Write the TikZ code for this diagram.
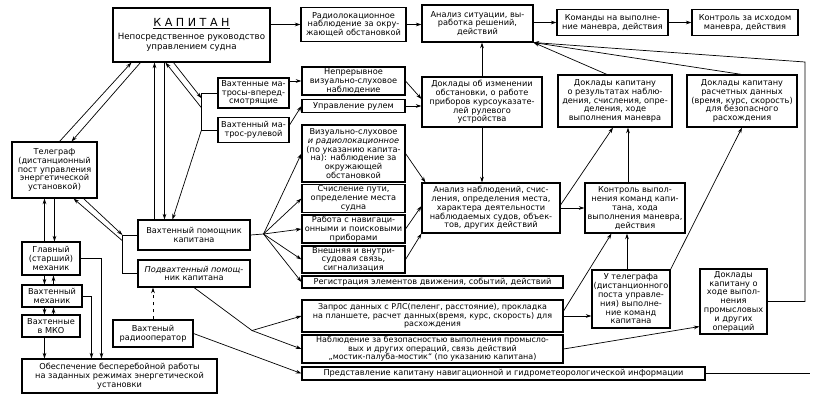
\documentclass[tikz,border=0pt]{standalone}
\usepackage{fontspec}
\setmainfont{DejaVu Sans}
\usetikzlibrary{positioning,arrows.meta,calc}

\begin{document}
\begin{tikzpicture}[
  x=0.03cm, y=-0.03cm,
  blk/.style={draw, line width=0.9pt, inner sep=1pt, align=center,
              font=\fontsize{7}{7.5}\selectfont},
  sz/.style 2 args={minimum width=#1*0.03cm, minimum height=#2*0.03cm},
  arr/.style={-{Stealth[length=1.7mm,width=1.1mm]}, semithick},
  ln/.style={semithick}
]
\useasboundingbox[fill=white] (0,0) rectangle (821,413);

%% -- nodes -------------------------------------------------------------
\node[blk, sz={157}{54}, font=\fontsize{7.4}{8.6}\selectfont] (cap) at (191.5,35)
  {{\fontsize{9.5}{11}\selectfont\underline{К А П И Т А Н}}\\[3pt]
   Непосредственное руководство\\управлением судна};

% top row
\node[blk, sz={105}{34}] (radar) at (353.5,24.5) {Радиолокационное\\наблюдение за окру-\\жающей обстановкой};
\node[blk, sz={111}{37}] (sit)   at (477.5,23.5) {Анализ ситуации, вы-\\работка решений,\\действий};
\node[blk, sz={111}{26}] (cmd)   at (612.5,22.5) {Команды на выполне-\\ние маневра, действия};
\node[blk, sz={106}{26}] (outc)  at (745,22.5)   {Контроль за исходом\\маневра, действия};

% sailors
\node[blk, sz={71}{30}] (look) at (253.5,93)  {Вахтенные ма-\\тросы-вперед-\\смотрящие};
\node[blk, sz={71}{25}] (helm) at (253.5,130) {Вахтенный ма-\\трос-рулевой};

% watch duties
\node[blk, sz={103}{28}] (visc) at (353.5,81)    {Непрерывное\\визуально-слуховое\\наблюдение};
\node[blk, sz={103}{13}] (rud)  at (353.5,106)   {Управление рулем};
\node[blk, sz={103}{57}] (visr) at (353.5,153.5) {Визуально-слуховое\\\textit{и радиолокационное}\\(по указанию капита-\\на): наблюдение за\\окружающей\\обстановкой};
\node[blk, sz={103}{27}] (dr)   at (353.5,198.5) {Счисление пути,\\определение места\\судна};
\node[blk, sz={103}{28}] (navw) at (353.5,229)   {Работа с навигаци-\\онными и поисковыми\\приборами};
\node[blk, sz={103}{25}] (comm) at (353.5,259.5) {Внешняя и внутри-\\судовая связь,\\сигнализация};
\node[blk, sz={261}{12}] (reg)  at (432.5,282)   {Регистрация элементов движения, событий, действий};

% reports and analysis
\node[blk, sz={120}{50}] (rchg)  at (482,102) {Доклады об изменении\\обстановки, о работе\\приборов курсоуказате-\\лей рулевого\\устройства};
\node[blk, sz={114}{52}] (rres)  at (615,101) {Доклады капитану\\о результатах наблю-\\дения, счисления, опре-\\деления, ходе\\выполнения маневра};
\node[blk, sz={110}{52}] (rcalc) at (742,101) {Доклады капитану\\расчетных данных\\(время, курс, скорость)\\для безопасного\\расхождения};
\node[blk, sz={138}{50}] (aobs)  at (491,208) {Анализ наблюдений, счис-\\ления, определения места,\\характера деятельности\\наблюдаемых судов, объек-\\тов, других действий};
\node[blk, sz={100}{50}] (cexe)  at (635,208) {Контроль выпол-\\нения команд капи-\\тана, хода\\выполнения маневра,\\действия};

% officers
\node[blk, sz={85}{56}]  (tel)  at (54.5,170)  {Телеграф\\(дистанционный\\пост управления\\энергетической\\установкой)};
\node[blk, sz={112}{30}] (oow)  at (194,235)   {Вахтенный помощник\\капитана};
\node[blk, sz={112}{27}] (soow) at (194,273.5) {\textit{Подвахтенный помощ-}\\ник капитана};
\node[blk, sz={80}{27}]  (radio) at (153,333.5) {Вахтеный\\радиооператор};

% engine room
\node[blk, sz={58}{33}]  (chief) at (51,258.5) {Главный\\(старший)\\механик};
\node[blk, sz={60}{22}]  (wmech) at (52,296)   {Вахтенный\\механик};
\node[blk, sz={58}{22}]  (mko)   at (51,326)   {Вахтенные\\в МКО};
\node[blk, sz={195}{34}] (power) at (119.5,376) {Обеспечение бесперебойной работы\\на заданных режимах энергетической\\установки};

% off-watch duties
\node[blk, sz={261}{32}, font=\fontsize{6.8}{7.4}\selectfont] (rls) at (432.5,316) {Запрос данных с РЛС(пеленг, расстояние), прокладка\\на планшете, расчет данных(время, курс, скорость) для\\расхождения};
\node[blk, sz={261}{28}, font=\fontsize{6.8}{7.4}\selectfont] (safe) at (432.5,349) {Наблюдение за безопасностью выполнения промысло-\\вых и других операций, связь действий\\„мостик-палуба-мостик“ (по указанию капитана)};
\node[blk, sz={403}{13}] (info)  at (503.5,373.5) {Представление капитану навигационной и гидрометеорологической информации};
\node[blk, sz={78}{58}]  (attel) at (631,299)   {У телеграфа\\(дистанционного\\поста управле-\\ния) выполне-\\ние команд\\капитана};
\node[blk, sz={67}{65}]  (rops)  at (733.5,301.5) {Доклады\\капитану о\\ходе выпол-\\нения\\промысловых\\и других\\операций};

%% -- helper points -----------------------------------------------------
\coordinate (brS1) at ($(look.west)+(-16,0)$);
\coordinate (brS2) at ($(helm.west)+(-16,0)$);
\coordinate (brA1) at ($(oow.west)+(-15,0)$);
\coordinate (brA2) at ($(soow.west)+(-15,0)$);
\coordinate (vA) at ($(oow.north west)+(17,0)$);
\coordinate (vB) at ($(oow.north west)+(27,0)$);
\coordinate (fan)  at ($(oow.east)+(13,-1)$);
\coordinate (fan2) at ($(soow.south)+(58,43)$);
\coordinate (tA) at ($(chief.north west)+(23,0)$);
\coordinate (tB) at ($(chief.north west)+(33,0)$);
\coordinate (mA) at ($(wmech.north west)+(23,0)$);
\coordinate (mB) at ($(wmech.north west)+(32,0)$);
\coordinate (kA) at ($(mko.north west)+(23,0)$);
\coordinate (kB) at ($(mko.north west)+(32,0)$);
\coordinate (cx) at ($(cexe.north)+(-7,0)$);
\coordinate (ax) at ($(attel.north)+(-4,0)$);
\coordinate (rt) at (805,62);
\coordinate (infoend) at ($(info.east)+(104,0)$);

%% -- edges -------------------------------------------------------------
% top row
\draw[arr] (cap.east |- radar.west) -- (radar.west);
\draw[arr] (radar.east) -- (radar.east -| sit.west);
\draw[arr] (sit.east |- cmd.west) -- (cmd.west);
\draw[arr] (cmd) -- (outc);

% captain <-> telegraph, officer, sailors
\draw[arr] ($(tel.north east)+(-38,0)$) -- ($(cap.south west)+(19,0)$);
\draw[arr] ($(cap.south west)+(28,0)$) -- ($(tel.north east)+(-26,0)$);
\draw[arr] (vA) -- (vA |- cap.south);
\draw[arr] (vB |- cap.south) -- (vB);
\draw[ln] (look.west) -- (brS1) -- (brS2) -- (helm.west);
\draw[arr] ($(brS1)!0.4!(brS2)$) -- ($(cap.south west)+(53,0)$);
\draw[arr] ($(cap.south west)+(61,0)$) -- ($(brS1)!0.14!(brS2)$);
\draw[arr] (brS2) -- ($(oow.north west)+(35,0)$);

% sailors
\draw[arr] (look.east |- visc.west) -- (visc.west);
\draw[arr] ($(helm.east)+(0,-5)$) -- (rud.west);
\draw[arr] (visc.east) -- ($(rchg.west)+(0,-3)$);
\draw[arr] (rud.east) -- (rud.east -| rchg.west);
\draw[arr] (rchg.north) -- (rchg.north |- sit.south);
\draw[arr] (rchg.south) -- (rchg.south |- aobs.north);

% officer of the watch
\draw[ln] (oow.east) -- (fan);
\foreach \t in {visr,dr,navw,comm,reg}
  \draw[arr] (fan) -- (\t.west);
\draw[arr] (visr.east) -- ($(aobs.north west)+(4,0)$);
\draw[arr] (navw.east) -- ($(aobs.west)+(0,-2)$);
\draw[arr] (comm.east) -- (aobs.south west);
\draw[arr] (aobs.east) -- (cexe.west);
\draw[arr] ($(aobs.east)+(0,-3)$) -- ($(rres.south)+(-2,0)$);
\draw[arr] (cx) -- (cx |- rres.south);

% telegraph <-> officers
\draw[ln] (oow.west) -- (brA1) -- (brA2) -- (soow.west);
\draw[arr] ($(brA1)!0.15!(brA2)$) -- ($(tel.south east)+(-24,0)$);
\draw[arr] ($(tel.south east)+(-14,0)$) -- (brA1);

% engine room
\draw[arr] (tA) -- (tA |- tel.south);
\draw[arr] (tB |- tel.south) -- (tB);
\draw[arr] (mA |- chief.south) -- (mA);
\draw[arr] (mB) -- (mB |- chief.south);
\draw[arr] (kA |- wmech.south) -- (kA);
\draw[arr] (kB) -- (kB |- wmech.south);
\draw[arr] (kA |- mko.south) -- (kA |- power.north);
\draw[arr] (wmech.east) -| ($(power.north west)+(70,0)$);
\draw[arr] (chief.east) -| ($(power.north west)+(80,0)$);

% off-watch officer and radio operator
\draw[ln] (soow.south) -- (fan2);
\draw[arr] (fan2) -- (rls.west);
\draw[arr] (fan2) -- (safe.west);
\draw[arr] (radio.east) -- (info.west);
\draw[arr, dashed] (radio.north) -- (radio.north |- soow.south);

% right part
\draw[arr] (rls.east) -- (rls.east -| attel.west);
\draw[arr] ($(rls.east)+(0,-5)$) -- ($(cexe.south west)+(27,0)$);
\draw[arr] (ax) -- (ax |- cexe.south);
\draw[arr] (attel.north east) -- (rcalc.south);
\draw[arr] (safe.east) -- ($(rops.south west)+(0,-8)$);

% back to situation analysis
\draw[arr] ($(rres.north)+(-8,0)$) -- (sit.south east);
\draw[arr] (rcalc.north) -- (sit.south east);
\draw[arr] (rops.east) -| (rt) -- (sit.south east);
\draw[ln] (info.east) -- (infoend);

\end{tikzpicture}
\end{document}
